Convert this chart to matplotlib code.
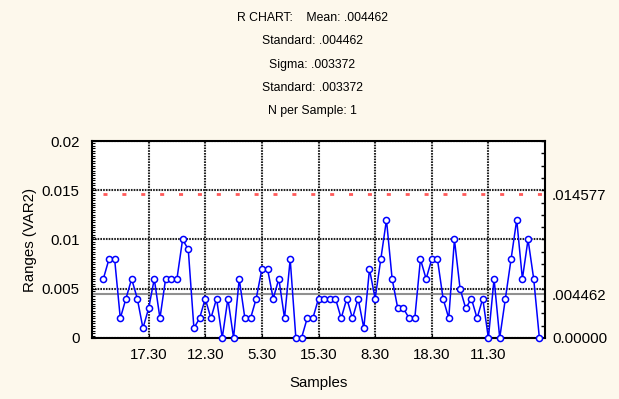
import matplotlib
matplotlib.use("Agg")
import matplotlib.pyplot as plt
from matplotlib.ticker import MultipleLocator
import numpy as np

plt.rcParams['font.family'] = ['Liberation Sans', 'DejaVu Sans']
plt.rcParams['lines.scale_dashes'] = False

# moving ranges, samples 2..79
samples = list(range(2, 80))
ranges = [0.006, 0.008, 0.008, 0.002, 0.004, 0.006, 0.004, 0.001, 0.003, 0.006,
          0.002, 0.006, 0.006, 0.006, 0.010, 0.009, 0.001, 0.002, 0.004, 0.002,
          0.004, 0.000, 0.004, 0.000, 0.006, 0.002, 0.002, 0.004, 0.007, 0.007,
          0.004, 0.006, 0.002, 0.008, 0.000, 0.000, 0.002, 0.002, 0.004, 0.004,
          0.004, 0.004, 0.002, 0.004, 0.002, 0.004, 0.001, 0.007, 0.004, 0.008,
          0.012, 0.006, 0.003, 0.003, 0.002, 0.002, 0.008, 0.006, 0.008, 0.008,
          0.004, 0.002, 0.010, 0.005, 0.003, 0.004, 0.002, 0.004, 0.000, 0.006,
          0.000, 0.004, 0.008, 0.012, 0.006, 0.010, 0.006, 0.000]

center = 0.004462
ucl = 0.014577
lcl = 0.0
x_ticks = [10, 20, 30, 40, 50, 60, 70]
x_labels = ['17.30', '12.30', '5.30', '15.30', '8.30', '18.30', '11.30']
y_ticks = [0, 0.005, 0.01, 0.015, 0.02]
y_labels = ['0', '0.005', '0.01', '0.015', '0.02']
title_lines = ['R CHART:    Mean: .004462', 'Standard: .004462', 'Sigma: .003372',
               'Standard: .003372', 'N per Sample: 1']

bg = '#fdf8ec'
fs = 10.8
fig = plt.figure(figsize=(6.19, 3.99), dpi=100, facecolor=bg)
ax = fig.add_axes([0.1486, 0.1529, 0.7319, 0.4937])
ax.set_facecolor('white')

ax.set_xlim(0, 80)
ax.set_ylim(0, 0.02)

# grid
ax.set_xticks(x_ticks)
ax.set_xticklabels(x_labels, fontsize=fs)
ax.set_yticks(y_ticks)
ax.set_yticklabels(y_labels, fontsize=fs)
ax.grid(True, color='#222222', linestyle=(0, (1.2, 0.8)), linewidth=1.5)
ax.set_axisbelow(True)
ax.yaxis.set_minor_locator(MultipleLocator(0.00025))
ax.tick_params(axis='y', which='minor', direction='in', length=2, width=0.8)
ax.tick_params(axis='y', which='major', direction='in', length=3, pad=9)
ax.tick_params(axis='x', which='major', direction='in', length=3, pad=7)

# control lines
ax.axhline(center, color='#909090', linewidth=1.5, zorder=2)
ax.axhline(ucl, color='#ff5a5a', linewidth=2, linestyle=(5.7, (2.9, 10.7)), zorder=2)
ax.axhline(lcl, color='#ff5a5a', linewidth=2, linestyle=(5.7, (2.9, 10.7)), zorder=2)

ax.plot(samples, ranges, color='#0000ff', linewidth=1.1, marker='o', markersize=4.4,
        markerfacecolor='white', markeredgecolor='#0000ff', markeredgewidth=1.1,
        zorder=3, clip_on=False)

for s in ax.spines.values():
    s.set_linewidth(1.5)
    s.set_color('black')

ax2 = ax.twinx()
ax2.set_ylim(0, 0.02)
ax2.set_yticks([lcl, center, ucl])
ax2.set_yticklabels(['0.00000', '.004462', '.014577'], fontsize=fs)
ax2.yaxis.set_minor_locator(MultipleLocator(0.00125))
ax2.tick_params(axis='y', which='major', length=0, pad=5)
ax2.tick_params(axis='y', which='minor', direction='in', length=3, width=1)
for s in ax2.spines.values():
    s.set_visible(False)

ax.set_xlabel('Samples', fontsize=fs, labelpad=10)
ax.set_ylabel('Ranges (VAR2)', fontsize=fs, labelpad=3)

# header
for i, line in enumerate(title_lines):
    fig.text(312 / 619, 1 - (18 + 23.3 * i) / 399, line, ha='center', va='center',
             fontsize=8.8)

fig.savefig('out.png', dpi=100, facecolor=bg)
